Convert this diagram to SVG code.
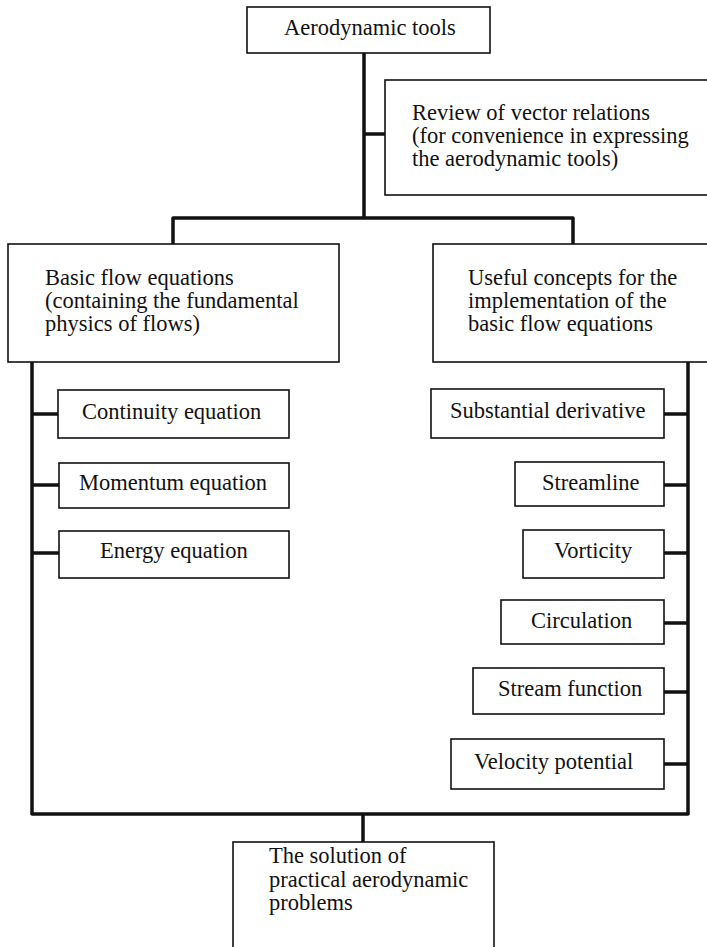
<svg xmlns="http://www.w3.org/2000/svg" width="707" height="947" viewBox="0 0 707 947">
<style>
.box{fill:#fff;stroke:#111;stroke-width:1.6}
.con{fill:none;stroke:#111;stroke-width:3.5;stroke-linejoin:round;stroke-linecap:butt}
text{font-family:"Liberation Serif","Times New Roman",serif;font-size:22.5px;fill:#111}
</style>
<rect width="707" height="947" fill="#fff"/>
<g id="connectors">
<path class="con" d="M364 53V218M364 134H385M173 245V218H573V245"/>
<path class="con" d="M32 362V814H688V362"/>
<path class="con" d="M32 414H58M32 485H59M32 553H59"/>
<path class="con" d="M664 414H688M664 485H688M664 553H688M664 623H688M664 692H688M664 764H688"/>
<path class="con" d="M363 814V842"/>
</g>
<g id="aerodynamic-tools"><rect class="box" x="247" y="7" width="243" height="46"/><text x="284" y="35">Aerodynamic tools</text></g>
<g id="review"><rect class="box" x="385" y="80" width="340" height="115"/><text x="412" y="120">Review of vector relations</text><text x="412" y="143">(for convenience in expressing</text><text x="412" y="166">the aerodynamic tools)</text></g>
<g id="basic-flow"><rect class="box" x="8" y="244" width="331" height="118"/><text x="45" y="285">Basic flow equations</text><text x="45" y="308">(containing the fundamental</text><text x="45" y="331">physics of flows)</text></g>
<g id="useful-concepts"><rect class="box" x="433" y="244" width="290" height="118"/><text x="468" y="285">Useful concepts for the</text><text x="468" y="308">implementation of the</text><text x="468" y="331">basic flow equations</text></g>
<g id="continuity"><rect class="box" x="58" y="390" width="231" height="48"/><text x="82" y="419">Continuity equation</text></g>
<g id="momentum"><rect class="box" x="59" y="463" width="230" height="45"/><text x="79" y="490">Momentum equation</text></g>
<g id="energy"><rect class="box" x="59" y="531" width="230" height="47"/><text x="100" y="558">Energy equation</text></g>
<g id="substantial"><rect class="box" x="431" y="389" width="233" height="49"/><text x="450" y="418">Substantial derivative</text></g>
<g id="streamline"><rect class="box" x="515" y="462" width="149" height="44"/><text x="542" y="490">Streamline</text></g>
<g id="vorticity"><rect class="box" x="523" y="530" width="141" height="48"/><text x="554" y="558">Vorticity</text></g>
<g id="circulation"><rect class="box" x="501" y="600" width="163" height="44"/><text x="531" y="628">Circulation</text></g>
<g id="stream-function"><rect class="box" x="473" y="668" width="191" height="46"/><text x="498" y="696">Stream function</text></g>
<g id="velocity-potential"><rect class="box" x="451" y="739" width="213" height="50"/><text x="474" y="769">Velocity potential</text></g>
<g id="solution"><rect class="box" x="233" y="842" width="261" height="130"/><text x="269" y="863">The solution of</text><text x="269" y="887">practical aerodynamic</text><text x="269" y="910">problems</text></g>
</svg>
